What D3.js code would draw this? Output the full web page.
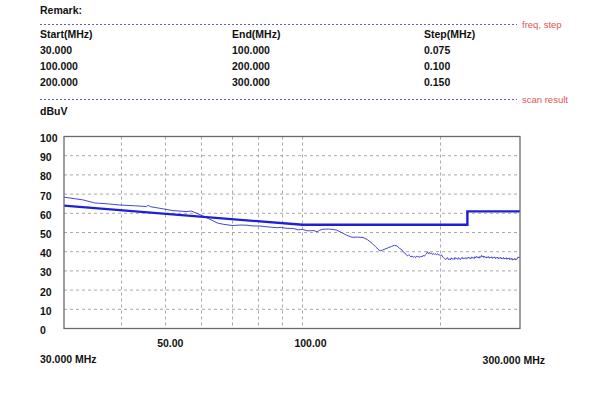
<!DOCTYPE html>
<html>
<head>
<meta charset="utf-8">
<script src="https://cdn.jsdelivr.net/npm/d3@7"></script>
<style>
  html, body { margin: 0; padding: 0; background: #fff; }
  svg { display: block; }
  text { font-family: "Liberation Sans", Arial, sans-serif; }
</style>
</head>
<body>
<svg id="chart" width="600" height="400"></svg>
<script>
// ---- data ----
const tableHeaders = ["Start(MHz)", "End(MHz)", "Step(MHz)"];
const startFreqs = ["30.000", "100.000", "200.000"];
const endFreqs = ["100.000", "200.000", "300.000"];
const stepFreqs = ["0.075", "0.100", "0.150"];
const yTicks = [0, 10, 20, 30, 40, 50, 60, 70, 80, 90, 100];
const xGridFreqs = [40, 50, 60, 70, 80, 90, 100, 200];
const xTickLabels = [{ f: 50, label: "50.00" }, { f: 100, label: "100.00" }];

const limitFreq = [30, 100, 230, 230, 300];
const limitLevel = [64, 54, 54, 61, 61];

const measFreq = [30, 33, 35, 37.5, 39.8, 43, 45.5, 45.9, 46.5, 48.7, 52, 55.8, 57, 59.6, 62.7, 65, 67, 70.4, 73, 75.6, 78, 80.7, 84, 88, 90, 92, 95.3, 98, 100, 102.4, 104, 106, 107.6, 109, 110.9, 114, 116.7, 119, 122.7, 125, 128.4, 132, 135.8, 139, 142.1, 145, 148, 150, 153.3, 157, 159, 161.2, 163,
  165.3, 166, 167, 168, 169, 170, 171, 172, 173, 174, 175, 176, 177, 178, 179, 180, 181, 182, 183, 184, 185, 186, 187, 188, 189, 190, 191, 192, 193, 194, 195, 196, 197, 198, 199,
  200, 201, 202, 203, 204, 205, 206, 207, 208, 209, 210, 211, 212, 213, 214, 215, 216, 217, 218, 219, 220, 221, 222, 223, 224, 225, 226, 227, 228, 229, 230, 231, 232, 233, 234, 235, 236, 237, 238, 239, 240, 241, 242, 243, 244, 245, 246, 247, 248, 249, 250, 251, 252, 253, 254, 255, 256, 257, 258, 259, 260, 261, 262, 263, 264, 265, 266, 267, 268, 269, 270, 271, 272, 273, 274, 275, 276, 277, 278, 279, 280, 281, 282, 283, 284, 285, 286, 287, 288, 289, 290, 291, 292, 293, 294, 295, 296, 297, 298, 299, 300];
const measLevel = [68.4, 67.0, 65.4, 64.9, 64.3, 63.9, 63.5, 64.2, 63.4, 62.6, 61.4, 60.9, 61.2, 59.3, 56.9, 55.0, 54.3, 53.6, 53.9, 53.8, 53.4, 53.4, 52.9, 52.5, 52.7, 52.2, 52.1, 51.4, 51.6, 50.9, 50.9, 51.0, 50.4, 51.1, 51.7, 51.8, 51.6, 51.2, 49.6, 48.6, 47.5, 47.6, 47.4, 46.2, 44.4, 42.3, 40.4, 40.9, 41.8, 42.8, 43.3, 43.0, 41.9,
  40.9, 40.2, 39.6, 39.2, 38.3, 37.8, 38.5, 37.9, 37.3, 37.8, 37.1, 37.4, 36.9, 37.8, 37.2, 37.5, 37.0, 37.7, 37.3, 38.1, 37.6, 38.4, 38.9, 40.0, 38.8, 39.6, 38.9, 39.3, 38.5, 39.1, 38.6, 38.9, 38.4, 38.9, 38.2,
  38.3, 37.9, 38.4, 37.2, 37.0, 36.4, 35.8, 36.6, 36.9, 35.9, 36.3, 35.7, 36.8, 36.1, 36.5, 35.9, 37.0, 36.3, 36.7, 36.0, 36.9, 36.4, 35.8, 36.7, 37.1, 36.2, 36.8, 36.4, 37.0, 36.1, 36.6, 37.2, 36.5, 36.9, 36.3, 37.3, 36.7, 37.0, 36.4, 37.4, 36.8, 37.6, 36.9, 37.3, 36.6, 37.5, 37.0, 38.1, 37.3, 37.8, 36.9, 37.6, 37.1, 36.6, 37.4, 36.9, 37.5, 36.6, 37.2, 36.8, 37.4, 36.5, 37.1, 36.7, 37.3, 36.4, 37.0, 36.6, 37.2, 36.3, 36.9, 36.5, 37.1, 36.2, 36.8, 36.4, 37.0, 36.1, 36.7, 36.3, 36.9, 36.0, 36.6, 36.2, 36.8, 35.8, 36.4, 36.0, 36.6, 35.6, 36.2, 35.8, 36.5, 35.7, 36.3, 35.9, 36.6, 37.3, 36.8, 37.2, 37.0];

// ---- layout ----
const svg = d3.select("#chart");
const plot = { left: 64, right: 520, top: 136.5, bottom: 328.5 };

const x = d3.scaleLog().domain([30, 300]).range([plot.left, plot.right]);
const y = d3.scaleLinear().domain([0, 100]).range([plot.bottom, plot.top]);

const textColor = "#111";
const bold = "bold";

// header text
svg.append("text").attr("x", 40).attr("y", 13.5).attr("font-size", 10.5).attr("font-weight", bold).attr("fill", textColor).text("Remark:");

function dashedSep(yy, label) {
  svg.append("line").attr("x1", 40).attr("x2", 517).attr("y1", yy).attr("y2", yy)
    .attr("stroke", "#5a5ae6").attr("stroke-width", 1).attr("stroke-dasharray", "2,2");
  svg.append("text").attr("x", 522).attr("y", yy + 3).attr("font-size", 9.5).attr("fill", "#e05555").text(label);
}
dashedSep(24.5, "freq, step");
dashedSep(99.5, "scan result");

const colX = [40, 232, 424];
const cols = [startFreqs, endFreqs, stepFreqs];
tableHeaders.forEach((h, i) => {
  svg.append("text").attr("x", colX[i]).attr("y", 38).attr("font-size", 10.5).attr("font-weight", bold).attr("fill", textColor).text(h);
  cols[i].forEach((v, j) => {
    svg.append("text").attr("x", colX[i]).attr("y", 54 + j * 15.8).attr("font-size", 10.5).attr("font-weight", bold).attr("fill", textColor).text(v);
  });
});

svg.append("text").attr("x", 40).attr("y", 115).attr("font-size", 10.5).attr("font-weight", bold).attr("fill", textColor).text("dBuV");

// grid
const g = svg.append("g");
g.selectAll("line.hg").data(yTicks.filter(d => d > 0 && d < 100)).enter().append("line")
  .attr("x1", plot.left).attr("x2", plot.right)
  .attr("y1", d => y(d)).attr("y2", d => y(d))
  .attr("stroke", "#a8a8a8").attr("stroke-width", 1).attr("stroke-dasharray", "3,3");
g.selectAll("line.vg").data(xGridFreqs).enter().append("line")
  .attr("x1", d => Math.round(x(d)) + 0.5).attr("x2", d => Math.round(x(d)) + 0.5)
  .attr("y1", plot.top).attr("y2", plot.bottom)
  .attr("stroke", "#a8a8a8").attr("stroke-width", 1).attr("stroke-dasharray", "3,3");

// y tick labels
svg.selectAll("text.yt").data(yTicks).enter().append("text")
  .attr("x", 40).attr("y", d => y(d) + 5.5)
  .attr("font-size", 10.5).attr("font-weight", bold).attr("fill", textColor)
  .text(d => d);

// x tick labels
svg.selectAll("text.xt").data(xTickLabels).enter().append("text")
  .attr("x", d => x(d.f) - 8).attr("y", 347)
  .attr("font-size", 10.5).attr("font-weight", bold).attr("fill", textColor)
  .text(d => d.label);
svg.append("text").attr("x", 40).attr("y", 363).attr("font-size", 10.5).attr("font-weight", bold).attr("fill", textColor).text("30.000 MHz");
svg.append("text").attr("x", 545).attr("y", 363.5).attr("text-anchor", "end").attr("font-size", 10.5).attr("font-weight", bold).attr("fill", textColor).text("300.000 MHz");

// lines
const lineGen = d3.line().x(d => x(d[0])).y(d => y(d[1]));
const measData = measFreq.map((f, i) => [f, measLevel[i]]);
const limitData = limitFreq.map((f, i) => [f, limitLevel[i]]);

svg.append("path").datum(measData).attr("d", lineGen)
  .attr("fill", "none").attr("stroke", "#4646d8").attr("stroke-width", 1);
svg.append("path").datum(limitData).attr("d", lineGen)
  .attr("fill", "none").attr("stroke", "#1f1fd6").attr("stroke-width", 2.4);

// frame
svg.append("rect").attr("x", plot.left).attr("y", plot.top)
  .attr("width", plot.right - plot.left).attr("height", plot.bottom - plot.top)
  .attr("fill", "none").attr("stroke", "#6a6a6a").attr("stroke-width", 1.3);
</script>
</body>
</html>
